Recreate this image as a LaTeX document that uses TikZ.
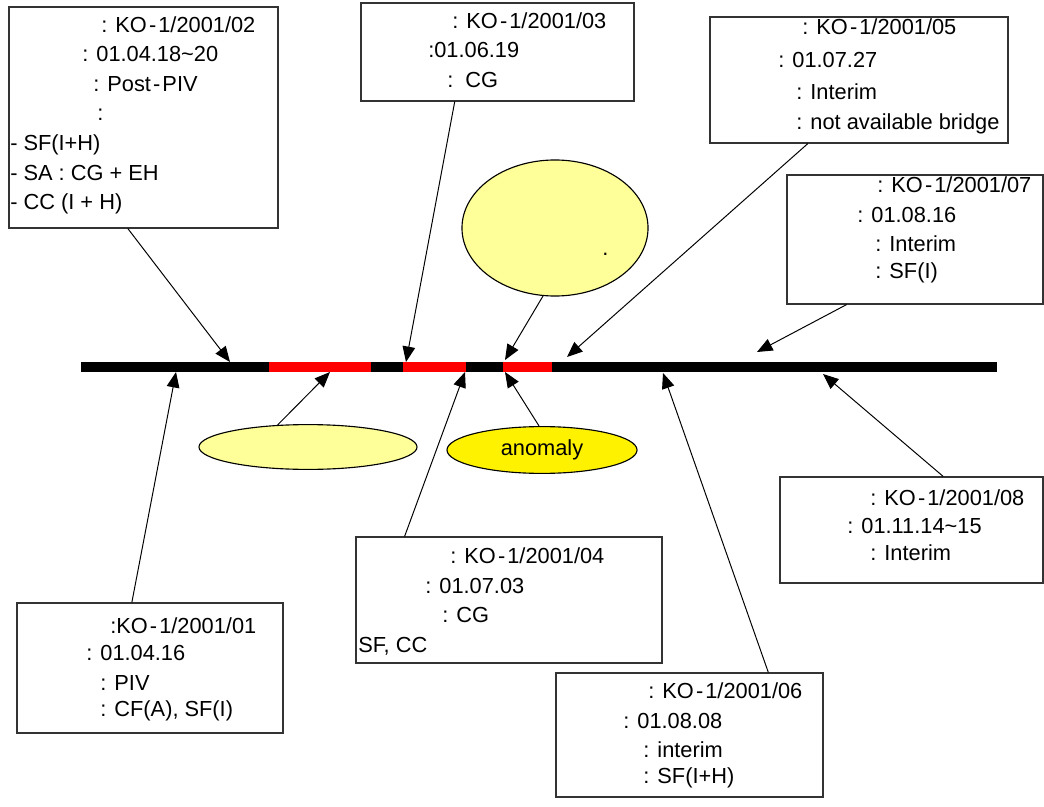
\documentclass[tikz,border=0pt]{standalone}
\usepackage{fontspec}
\setmainfont{Liberation Sans}
\usetikzlibrary{arrows.meta,shapes.geometric,fit,calc}
\definecolor{paleyel}{HTML}{FFFF99}
\definecolor{boxgray}{HTML}{333333}
\newcommand{\hy}{\kern1.5pt-\kern1.5pt}
\begin{document}
\begin{tikzpicture}[x=0.025cm,y=-0.025cm,
    box/.style={draw=boxgray,line width=0.8pt,inner sep=0pt},
    txt/.style={anchor=base west,inner sep=0pt,font=\fontsize{15.5}{19}\selectfont},
    blob/.style={draw,ellipse,line width=0.8pt,inner sep=0pt},
    arr/.style={-{Triangle[length=11pt,width=9pt]},line width=0.7pt},
    bar/.style={line width=7.2pt}]
\useasboundingbox (0,0) rectangle (1044,807);
% the line with its red parts
\coordinate (bl) at (81,367);
\coordinate (br) at (997,367);
\draw[bar] (bl) -- (br);
\draw[bar,red] (269,367) -- (371,367);
\draw[bar,red] (403,367) -- (466,367);
\draw[bar,red] (503,367) -- (552,367);
% arrow tips on the line
\coordinate (t01) at (176,372);
\coordinate (t02) at (230,362);
\coordinate (t03) at (406,362);
\coordinate (t04) at (465,372);
\coordinate (t05) at (567,357);
\coordinate (t06) at (663,373);
\coordinate (t07) at (757,352);
\coordinate (t08) at (823,374);
\coordinate (te1) at (505,360);
\coordinate (te2) at (330,372);
\coordinate (te3) at (505,372);
% boxes
\node[box,fit={(9,7) (278,228)}] (b02) {};
\node[txt] (b02a) at (101,33) {: KO\hy1/2001/02};
\node[txt] (b02b) at (82,62) {: 01.04.18\char`~20};
\node[txt] (b02c) at (93,92) {: Post\hy PIV};
\node[txt] (b02d) at (97,121) {:};
\node[txt] (b02e) at (10,151) {- SF(I+H)};
\node[txt] (b02f) at (10,181) {- SA : CG + EH};
\node[txt] (b02g) at (10,210) {- CC (I + H)};

\node[box,fit={(361,3) (634,101)}] (b03) {};
\node[txt] (b03a) at (452,29) {: KO\hy1/2001/03};
\node[txt] (b03b) at (428,58) {:01.06.19};
\node[txt] (b03c) at (447,88) {:\ \ CG};

\node[box,fit={(710,17) (1008,143)}] (b05) {};
\node[txt] (b05a) at (802,35) {: KO\hy1/2001/05};
\node[txt] (b05b) at (778,68) {: 01.07.27};
\node[txt] (b05c) at (796,100) {: Interim};
\node[txt] (b05d) at (796,130) {: not available bridge};

\node[box,fit={(787,175) (1043,304)}] (b07) {};
\node[txt] (b07a) at (877,193) {: KO\hy1/2001/07};
\node[txt] (b07b) at (857,223) {: 01.08.16};
\node[txt] (b07c) at (875,251) {: Interim};
\node[txt] (b07d) at (875,279) {: SF(I)};

\node[box,fit={(17,603) (283,733)}] (b01) {};
\node[txt] (b01a) at (110,633) {:KO\hy1/2001/01};
\node[txt] (b01b) at (86,660) {: 01.04.16};
\node[txt] (b01c) at (100,690) {: PIV};
\node[txt] (b01d) at (100,716) {: CF(A), SF(I)};

\node[box,fit={(356,537) (662,663)}] (b04) {};
\node[txt] (b04a) at (450,563) {: KO\hy1/2001/04};
\node[txt] (b04b) at (425,593) {: 01.07.03};
\node[txt] (b04c) at (442,622) {: CG};
\node[txt] (b04d) at (358,652) {SF, CC};

\node[box,fit={(556,673) (823,797)}] (b06) {};
\node[txt] (b06a) at (648,698) {: KO\hy1/2001/06};
\node[txt] (b06b) at (623,728) {: 01.08.08};
\node[txt] (b06c) at (643,757) {: interim};
\node[txt] (b06d) at (643,783) {: SF(I+H)};

\node[box,fit={(780,477) (1043,583)}] (b08) {};
\node[txt] (b08a) at (870,505) {: KO\hy1/2001/08};
\node[txt] (b08b) at (847,533) {: 01.11.14\char`~15};
\node[txt] (b08c) at (870,560) {: Interim};
% ellipses
\node[blob,fill=paleyel,minimum width=4.65cm,minimum height=3.4cm] (e1) at (555,228) {};
\node[txt] (e1dot) at (602,256) {.};
\node[blob,fill=paleyel,minimum width=5.45cm,minimum height=1.12cm] (e2) at (308,447) {};
\node[blob,fill=yellow,minimum width=4.75cm,minimum height=1.17cm,
      font=\fontsize{15.5}{19}\selectfont] (e3) at (542,450) {anomaly};
% arrows
\draw[arr] ($(b02.south west)!0.442!(b02.south east)$) -- (t02);
\draw[arr] ($(b03.south west)!0.344!(b03.south east)$) -- (t03);
\draw[arr] ($(b05.south west)!0.329!(b05.south east)$) -- (t05);
\draw[arr] ($(b07.south west)!0.234!(b07.south east)$) -- (t07);
\draw[arr] ($(b01.north west)!0.432!(b01.north east)$) -- (t01);
\draw[arr] ($(b04.north west)!0.16!(b04.north east)$) -- (t04);
\draw[arr] ($(b06.north west)!0.794!(b06.north east)$) -- (t06);
\draw[arr] ($(b08.north west)!0.62!(b08.north east)$) -- (t08);
\draw[arr] (e1.-100) -- (te1);
\draw[arr] (e2.144) -- (te2);
\draw[arr] (e3.97) -- (te3);
\end{tikzpicture}
\end{document}
